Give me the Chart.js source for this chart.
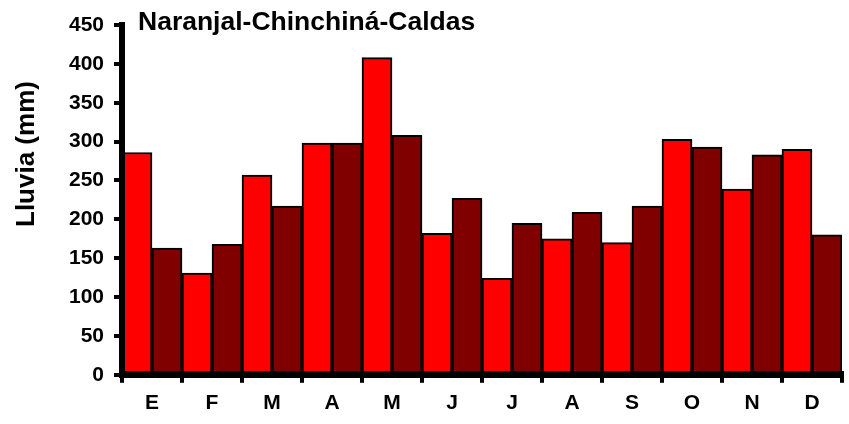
<!DOCTYPE html>
<html>
<head>
<meta charset="utf-8">
<script src="https://cdn.jsdelivr.net/npm/chart.js@4/dist/chart.umd.min.js"></script>
<style>
  html, body { margin: 0; padding: 0; background: #fff; }
  #wrap { position: relative; width: 849px; height: 424px; }
</style>
</head>
<body>
<div id="wrap"><canvas id="c" width="849" height="424"></canvas></div>
<script>
const months = ['E','F','M','A','M','J','J','A','S','O','N','D'];
const seriesA = [286, 131, 257, 298, 408, 182, 124, 175, 170, 303, 239, 290];
const seriesB = [163, 168, 217, 298, 308, 227, 195, 209, 217, 293, 283, 180];
const yTicks = [0, 50, 100, 150, 200, 250, 300, 350, 400, 450];
const chartTitle = 'Naranjal-Chinchiná-Caldas';
const yTitle = 'Lluvia (mm)';

const FONT = "'Liberation Sans', Arial, sans-serif";

const textPlugin = {
  id: 'textPlugin',
  afterDraw(chart) {
    const ctx = chart.ctx;
    ctx.save();
    ctx.fillStyle = '#000';
    ctx.font = "bold 26.5px " + FONT;
    ctx.textAlign = 'left';
    ctx.textBaseline = 'alphabetic';
    ctx.fillText(chartTitle, 138, 30);
    ctx.font = "bold 26px " + FONT;
    ctx.translate(34, 227);
    ctx.rotate(-Math.PI / 2);
    ctx.fillText(yTitle, 0, 0);
    ctx.restore();
  }
};

new Chart(document.getElementById('c'), {
  type: 'bar',
  data: {
    labels: months,
    datasets: [
      { data: seriesA, backgroundColor: '#FF0000', borderColor: '#000', borderWidth: 2,
        categoryPercentage: 1, barPercentage: 1 },
      { data: seriesB, backgroundColor: '#800000', borderColor: '#000', borderWidth: 2,
        categoryPercentage: 1, barPercentage: 1 }
    ]
  },
  options: {
    responsive: false,
    animation: false,
    devicePixelRatio: 1,
    layout: { padding: { top: 25, right: 7, bottom: 0, left: 0 } },
    plugins: { legend: { display: false }, title: { display: false }, tooltip: { enabled: false } },
    scales: {
      x: {
        grid: { display: true, drawOnChartArea: false, color: '#000', tickColor: '#000',
                tickLength: 8, tickWidth: 4, lineWidth: 4, offset: true },
        border: { display: true, color: '#000', width: 7, z: 1 },
        ticks: { color: '#000', font: { family: FONT, size: 21, weight: 'bold' }, padding: 8,
                 maxRotation: 0, autoSkip: false }
      },
      y: {
        min: 0, max: 450,
        afterFit(scale) { scale.width = 122; },
        afterBuildTicks(scale) { scale.ticks = yTicks.map(v => ({ value: v })); },
        grid: { display: true, drawOnChartArea: false, color: '#000', tickColor: '#000',
                tickLength: 8, tickWidth: 4, lineWidth: 4 },
        border: { display: true, color: '#000', width: 6, z: 1 },
        ticks: { color: '#000', font: { family: FONT, size: 21, weight: 'bold' }, padding: 10,
                 stepSize: 50 }
      }
    }
  },
  plugins: [textPlugin]
});
</script>
</body>
</html>
